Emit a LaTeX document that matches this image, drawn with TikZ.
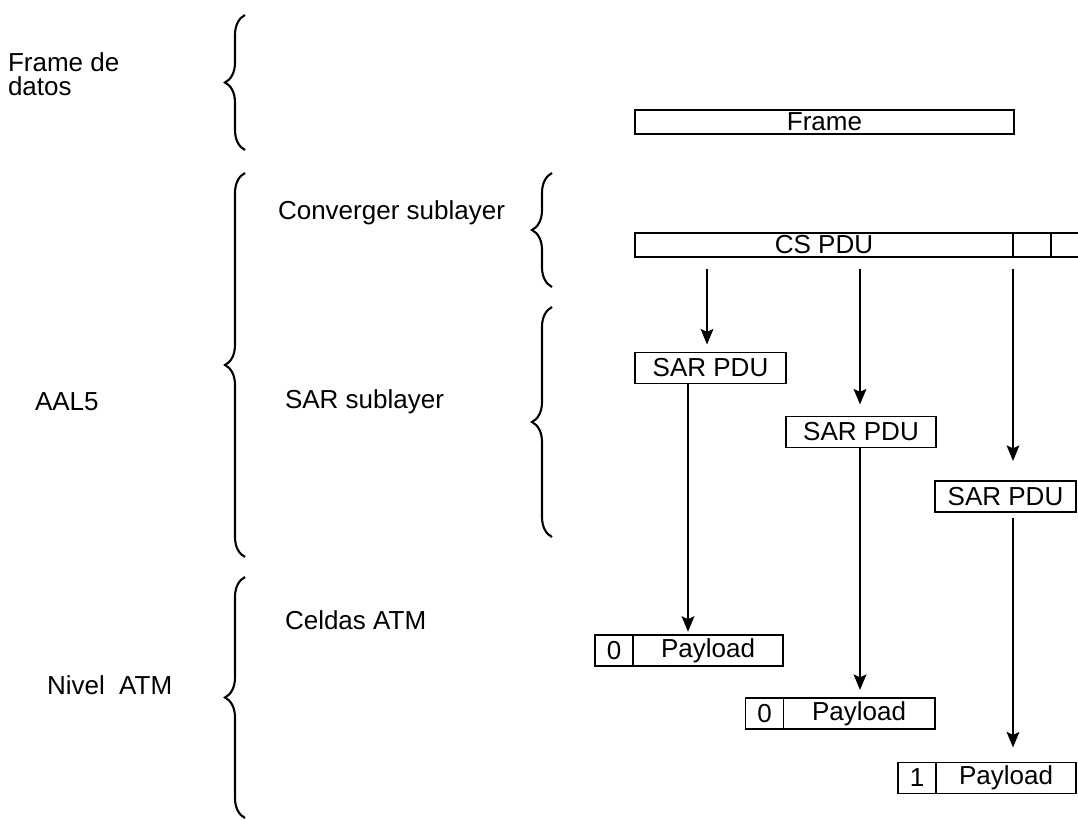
\documentclass[tikz,border=0pt]{standalone}
\usepackage{fontspec}
\setmainfont{Liberation Sans}
\usetikzlibrary{arrows.meta,decorations.pathreplacing,positioning}
\begin{document}
\begin{tikzpicture}[x=0.025cm, y=-0.025cm,
  >={Stealth[length=11pt,width=9pt,inset=2pt]},
  every node/.style={font=\fontsize{18.5pt}{17pt}\selectfont, inner sep=0pt, outer sep=0pt},
  caja/.style={draw, line width=1.4pt, minimum height=0.775cm},
  flecha/.style={->, line width=1.5pt},
  llave/.style={decorate, decoration={brace, amplitude=0.5cm}, line width=1.5pt}]

\useasboundingbox (0,0) rectangle (1078,820);
\clip (0,0) rectangle (1078,820);

%--- Textos de la izquierda ---
\node[anchor=west, align=left] (fdatos) at (8,74) {Frame de\\datos};
\node[anchor=west] (aal) at (35,402) {AAL5};
\node[anchor=west] (nivel) at (47,685) {Nivel\ \ ATM};
\node[anchor=west] (conv) at (278,213) {Converger sublayer};
\node[anchor=west] (sarsub) at (285,402) {SAR sublayer};
\node[anchor=west] (celdas) at (285,620) {Celdas ATM};

%--- Llaves ---
\foreach \xb/\ya/\yb in {245/15/150, 245/173/557, 552/173/287, 552/307/537, 245/577/818}{
  \draw[llave] (\xb,\yb) -- (\xb,\ya);
}

%--- Frame y CS PDU ---
\node[caja, minimum width=9.475cm, minimum height=0.6cm] (frame) at (824.5,122) {Frame};
\node[caja, minimum width=9.45cm, minimum height=0.6cm] (cs) at (824,245) {CS PDU};
\node[caja, minimum width=0.95cm, minimum height=0.6cm, right=0pt of cs] (cs2) {};
\node[caja, minimum width=1.3cm, minimum height=0.6cm, right=0pt of cs2] (cs3) {};

%--- SAR PDU ---
\node[caja, minimum width=3.775cm] (sar1) at (710.5,368) {SAR PDU};
\node[caja, minimum width=3.75cm] (sar2) at (861,432) {SAR PDU};
\node[caja, minimum width=3.525cm] (sar3) at (1005.5,496.5) {SAR PDU};

%--- Celdas ---
\foreach \i/\xc/\yc/\n/\w in {1/614/650.5/0/3.75, 2/764.5/713.5/0/3.775, 3/917/778/1/3.5}{
  \node[caja, minimum width=0.95cm] (c\i) at (\xc,\yc) {\n};
  \node[caja, minimum width=\w cm, right=0pt of c\i] (p\i) {Payload};
}

%--- Flechas ---
\coordinate (a1) at (707,0);
\coordinate (a2) at (860,0);
\coordinate (a3) at (1013,0);
\coordinate (b1) at (688,0);
\draw[flecha, shorten <=0.3cm, shorten >=0.2cm] (cs.south -| a1) -- (sar1.north -| a1);
\draw[flecha, shorten <=0.3cm, shorten >=0.3cm] (cs.south -| a2) -- (sar2.north -| a2);
\draw[flecha, shorten <=0.3cm, shorten >=0.5cm] (cs.south -| a3) -- (sar3.north -| a3);
\draw[flecha, shorten >=0.08cm] (sar1.south -| b1) -- (p1.north -| b1);
\draw[flecha, shorten >=0.2cm] (sar2.south -| a2) -- (p2.north -| a2);
\draw[flecha, shorten <=0.15cm, shorten >=0.375cm] (sar3.south -| a3) -- (p3.north -| a3);

\end{tikzpicture}
\end{document}
